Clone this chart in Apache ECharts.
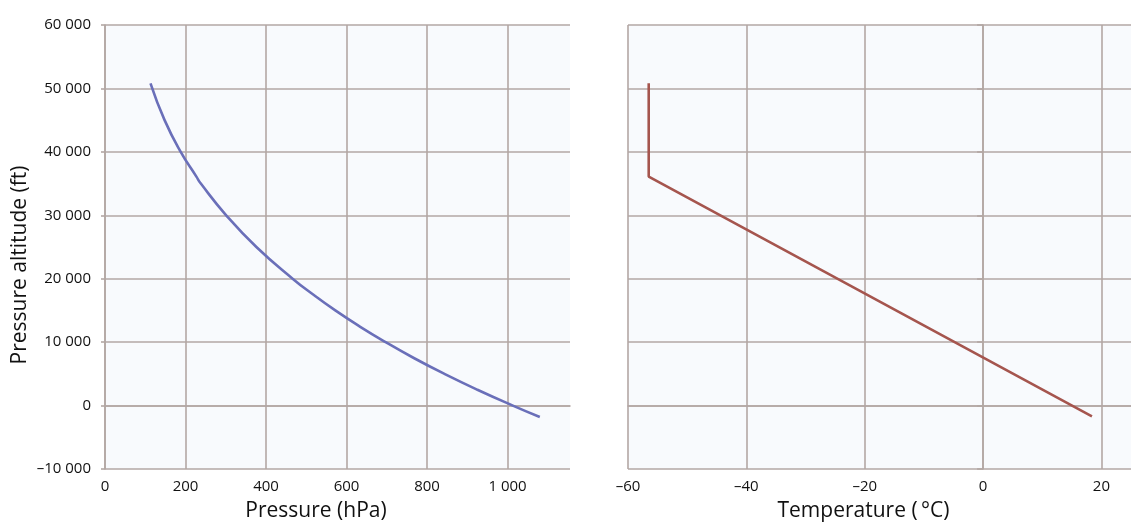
<!DOCTYPE html>
<html>
<head>
<meta charset="utf-8">
<script src="https://cdn.jsdelivr.net/npm/echarts@6/dist/echarts.min.js"></script>
<style>
html,body{margin:0;padding:0;background:#ffffff;}
#chart{width:1131px;height:530px;}
</style>
</head>
<body>
<div id="chart"></div>
<script>
// Pressure curve (left panel): altitude (ft) vs pressure (hPa)
const pressureAltitudes = [-1800, 0, 2500, 5000, 7500, 10000, 12500, 15000, 17500, 20000, 25000, 30000, 35000, 36100, 40000, 45000, 50800];
const pressureValues    = [1080, 1013, 925, 843, 767, 697, 632, 572, 517, 466, 376, 301, 238, 227, 188, 148, 113];

// Temperature profile (right panel): altitude (ft) vs temperature (°C)
const tempAltitudes = [-1700, 36100, 50800];
const tempValues    = [18.4, -56.5, -56.5];

// Axis titles
const yAxisTitle = 'Pressure altitude (ft)';
const leftXTitle = 'Pressure (hPa)';
const rightXTitle = 'Temperature (\u2009°C)';

const gridColor = '#b3a7a4';
const font = 'Open Sans';

function fmtNum(v) {
  const neg = v < 0;
  let s = String(Math.abs(v));
  s = s.replace(/\B(?=(\d{3})+(?!\d))/g, ' ');
  return (neg ? '\u2013' : '') + s;
}

const chart = echarts.init(document.getElementById('chart'), null, {renderer: 'canvas'});

const splitLineStyle = {show: true, showMinLine: true, showMaxLine: true, lineStyle: {color: gridColor, width: 1.6}};

const option = {
  animation: false,
  backgroundColor: '#ffffff',
  grid: [
    {left: 105, top: 25, width: 465, height: 444, show: true, backgroundColor: '#f8fafd', borderWidth: 0},
    {left: 628, top: 25, width: 503, height: 444, show: true, backgroundColor: '#f8fafd', borderWidth: 0}
  ],
  xAxis: [
    {
      gridIndex: 0, type: 'value', min: 0, max: 1155, interval: 200,
      name: leftXTitle, nameLocation: 'middle', nameGap: 32,
      nameTextStyle: {fontFamily: font, fontSize: 21, color: '#111', padding: [0, 43, 0, 0]},
      axisLine: {show: true, lineStyle: {color: gridColor, width: 1.6}},
      axisTick: {show: false},
      axisLabel: {fontFamily: font, fontSize: 15, color: '#111', margin: 10, showMaxLabel: false,
        formatter: v => (v % 200 === 0 ? fmtNum(v) : '')},
      splitLine: {show: true, showMinLine: true, showMaxLine: false,
        lineStyle: {color: gridColor, width: 1.6}}
    },
    {
      gridIndex: 1, type: 'value', min: -60, max: 25, interval: 20,
      name: rightXTitle, nameLocation: 'middle', nameGap: 32,
      nameTextStyle: {fontFamily: font, fontSize: 21, color: '#111', padding: [0, 32, 0, 0]},
      axisLine: {show: true, lineStyle: {color: gridColor, width: 1.6}},
      axisTick: {show: false},
      axisLabel: {fontFamily: font, fontSize: 15, color: '#111', margin: 10, showMaxLabel: false,
        formatter: v => (v % 20 === 0 ? fmtNum(v) : '')},
      splitLine: {show: true, showMinLine: true, showMaxLine: false,
        lineStyle: {color: gridColor, width: 1.6}}
    }
  ],
  yAxis: [
    {
      gridIndex: 0, type: 'value', min: -10000, max: 60000, interval: 10000,
      name: yAxisTitle, nameLocation: 'middle', nameGap: 74,
      nameTextStyle: {fontFamily: font, fontSize: 21, color: '#111', padding: [0, 36, 0, 0]},
      axisLine: {show: true, lineStyle: {color: gridColor, width: 1.6}},
      axisTick: {show: true, length: 4, lineStyle: {color: gridColor, width: 1.6}},
      axisLabel: {fontFamily: font, fontSize: 15, color: '#111', margin: 14, formatter: v => fmtNum(v)},
      splitLine: splitLineStyle
    },
    {
      gridIndex: 1, type: 'value', min: -10000, max: 60000, interval: 10000,
      axisLine: {show: true, lineStyle: {color: gridColor, width: 1.6}},
      axisTick: {show: true, length: 6, lineStyle: {color: gridColor, width: 1.6}},
      axisLabel: {show: false},
      splitLine: splitLineStyle
    }
  ],
  series: [
    {
      type: 'line', xAxisIndex: 0, yAxisIndex: 0,
      data: pressureValues.map((p, i) => [p, pressureAltitudes[i]]),
      showSymbol: false, smooth: true,
      lineStyle: {color: '#6a6fb9', width: 2.6},
      z: 5
    },
    {
      type: 'line', xAxisIndex: 1, yAxisIndex: 1,
      data: tempValues.map((t, i) => [t, tempAltitudes[i]]),
      showSymbol: false, smooth: false,
      lineStyle: {color: '#a5554e', width: 2.6},
      z: 5
    }
  ]
};

chart.setOption(option);
</script>
</body>
</html>
